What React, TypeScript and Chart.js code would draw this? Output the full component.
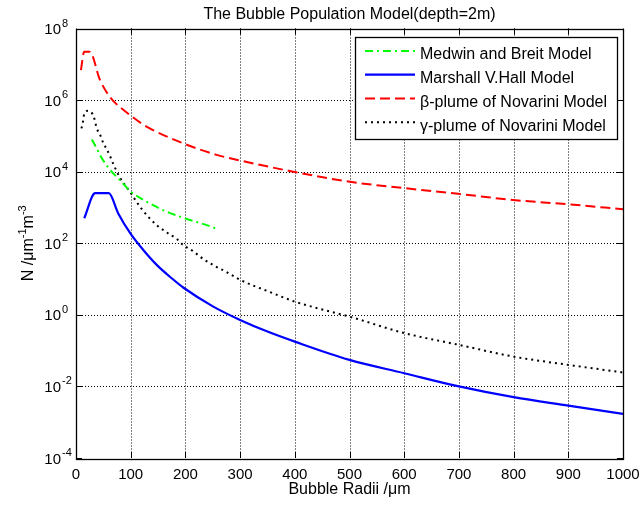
import { useEffect, useRef } from "react";
import { Chart, registerables } from "chart.js";

Chart.register(...registerables);

// ---- data ----
const chartTitle = "The Bubble Population Model(depth=2m)";
const xAxisTitle = "Bubble Radii /\u03bcm";

const xTicks = [0, 100, 200, 300, 400, 500, 600, 700, 800, 900, 1000];
const yTickExponents = [-4, -2, 0, 2, 4, 6, 8];

const seriesNames = [
  "Medwin and Breit Model",
  "Marshall V.Hall Model",
  "\u03b2-plume of Novarini Model",
  "\u03b3-plume of Novarini Model",
];

const radiiMedwin = [29, 41, 47, 65, 80, 100, 129, 166, 199, 239, 260];
const nMedwin = [7.9e4, 3.6e4, 2.4e4, 1.0e4, 5.9e3, 2.8e3, 1.45e3, 760, 500, 320, 245];

const radiiHall = [15, 35, 60, 77, 100, 123, 148, 175, 196, 251, 300, 350, 400, 500, 600, 700, 800, 900, 1000];
const nHall = [500, 2500, 2500, 690, 182, 65, 24.5, 10.5, 5.8, 1.7, 0.72, 0.34, 0.178, 0.055, 0.0234, 0.01, 0.005, 0.0029, 0.0017];

const radiiBeta = [9, 15, 25, 44, 62, 99, 129, 196, 257, 300, 397, 501, 598, 699, 799, 899, 1000];
const nBeta = [6.9e6, 2.24e7, 2.24e7, 3.6e6, 1.23e6, 3.8e5, 1.82e5, 6.2e4, 2.95e4, 2.05e4, 1.0e4, 5.2e3, 3.5e3, 2.4e3, 1.62e3, 1.23e3, 890];

const radiiGamma = [10, 13, 15, 22, 32, 38, 45, 50, 56, 62, 67, 74, 80, 93, 102, 111, 120, 132, 148, 166, 184, 196, 214, 233, 254, 275, 300, 350, 400, 450, 500, 600, 700, 800, 900, 1000];
const nGamma = [1.62e5, 2.6e5, 4.1e5, 5.0e5, 3.6e5, 1.62e5, 1.0e5, 6.2e4, 4.3e4, 2.75e4, 1.8e4, 1.05e4, 6.9e3, 3.6e3, 2.3e3, 1.41e3, 912, 550, 316, 200, 132, 89, 60, 36, 23, 15.8, 9.5, 4.6, 2.34, 1.41, 0.89, 0.31, 0.145, 0.068, 0.04, 0.0245];

const FONT = "'Liberation Sans', Arial, sans-serif";

const styles = [
  { color: "#00ff00", dash: [8, 4, 2, 4], width: 2 },
  { color: "#0000ff", dash: [] as number[], width: 2.2 },
  { color: "#ff0000", dash: [10, 5], width: 2 },
  { color: "#000000", dash: [2, 4], width: 2 },
];

function pts(xs: number[], ys: number[]) {
  return xs.map((x, i) => ({ x, y: ys[i] }));
}

const decoPlugin = {
  id: "deco",
  beforeDraw(chart: any) {
    const { ctx, width, height } = chart;
    ctx.save();
    ctx.fillStyle = "#fff";
    ctx.fillRect(0, 0, width, height);
    ctx.restore();
  },
  beforeDatasetsDraw(chart: any) {
    const { ctx, chartArea: a, scales } = chart;
    const sx = scales.x;
    const sy = scales.y;
    ctx.save();
    ctx.strokeStyle = "#000";
    ctx.lineWidth = 1;
    ctx.setLineDash([1, 2]);
    for (const v of xTicks) {
      if (v === xTicks[0] || v === xTicks[xTicks.length - 1]) continue;
      const px = Math.round(sx.getPixelForValue(v)) + 0.5;
      ctx.beginPath();
      ctx.moveTo(px, a.top);
      ctx.lineTo(px, a.bottom);
      ctx.stroke();
    }
    for (const e of yTickExponents) {
      if (e === yTickExponents[0] || e === yTickExponents[yTickExponents.length - 1]) continue;
      const py = Math.round(sy.getPixelForValue(Math.pow(10, e))) + 0.5;
      ctx.beginPath();
      ctx.moveTo(a.left, py);
      ctx.lineTo(a.right, py);
      ctx.stroke();
    }
    ctx.restore();
  },
  afterDatasetsDraw(chart: any) {
    const { ctx, chartArea: a, scales } = chart;
    const sx = scales.x;
    const sy = scales.y;
    ctx.save();
    ctx.setLineDash([]);
    // box
    ctx.strokeStyle = "#000";
    ctx.lineWidth = 1.3;
    ctx.strokeRect(Math.round(a.left) + 0.5, Math.round(a.top) + 0.5, Math.round(a.right - a.left), Math.round(a.bottom - a.top));
    // tick marks (inward, all sides)
    ctx.lineWidth = 1;
    const tl = 6;
    for (const v of xTicks) {
      const px = Math.round(sx.getPixelForValue(v)) + 0.5;
      ctx.beginPath();
      ctx.moveTo(px, a.bottom);
      ctx.lineTo(px, a.bottom - tl);
      ctx.moveTo(px, a.top);
      ctx.lineTo(px, a.top + tl);
      ctx.stroke();
    }
    for (const e of yTickExponents) {
      const py = Math.round(sy.getPixelForValue(Math.pow(10, e))) + 0.5;
      ctx.beginPath();
      ctx.moveTo(a.left, py);
      ctx.lineTo(a.left + tl, py);
      ctx.moveTo(a.right, py);
      ctx.lineTo(a.right - tl, py);
      ctx.stroke();
    }
    // x tick labels
    ctx.fillStyle = "#000";
    ctx.font = `15px ${FONT}`;
    ctx.textAlign = "center";
    ctx.textBaseline = "alphabetic";
    for (const v of xTicks) {
      const px = sx.getPixelForValue(v);
      ctx.fillText(String(v), px, a.bottom + 21);
    }
    // y tick labels 10^n
    for (const e of yTickExponents) {
      const py = sy.getPixelForValue(Math.pow(10, e));
      ctx.font = `15px ${FONT}`;
      ctx.textAlign = "right";
      ctx.fillText("10", 61, py + 5.5);
      ctx.font = `11px ${FONT}`;
      ctx.textAlign = "left";
      ctx.fillText(String(e), 62, py - 2);
    }
    // title
    ctx.font = `16px ${FONT}`;
    ctx.textAlign = "center";
    const cx = (a.left + a.right) / 2;
    ctx.fillText(chartTitle, cx, 18.5);
    // x title
    ctx.fillText(xAxisTitle, cx, 494);
    // y title (rotated, with superscripts)
    ctx.save();
    const cy = (a.top + a.bottom) / 2;
    ctx.translate(33, cy);
    ctx.rotate(-Math.PI / 2);
    const parts: [string, boolean][] = [
      ["N /\u03bcm", false],
      ["-1", true],
      ["m", false],
      ["-3", true],
    ];
    let total = 0;
    for (const [t, sup] of parts) {
      ctx.font = sup ? `11px ${FONT}` : `16px ${FONT}`;
      total += ctx.measureText(t).width;
    }
    let xx = -total / 2;
    ctx.textAlign = "left";
    for (const [t, sup] of parts) {
      ctx.font = sup ? `11px ${FONT}` : `16px ${FONT}`;
      ctx.fillText(t, xx, sup ? -7 : 0);
      xx += ctx.measureText(t).width;
    }
    ctx.restore();
    // legend
    const lx = 355, ly = 37, lw = 262, lh = 102;
    ctx.fillStyle = "#fff";
    ctx.fillRect(lx, ly, lw, lh);
    ctx.strokeStyle = "#000";
    ctx.lineWidth = 1.3;
    ctx.strokeRect(lx + 0.5, ly + 0.5, lw, lh);
    const rowY = [53.5, 77.2, 101, 124.7];
    seriesNames.forEach((name, i) => {
      const st = styles[i];
      ctx.strokeStyle = st.color;
      ctx.lineWidth = st.width;
      ctx.setLineDash(st.dash);
      ctx.beginPath();
      ctx.moveTo(365, rowY[i] - 2.5);
      ctx.lineTo(415, rowY[i] - 2.5);
      ctx.stroke();
      ctx.setLineDash([]);
      ctx.fillStyle = "#000";
      ctx.font = `16px ${FONT}`;
      ctx.textAlign = "left";
      ctx.fillText(name, 420, rowY[i] + 5.8);
    });
    ctx.restore();
  },
};

export default function App() {
  const ref = useRef<HTMLCanvasElement | null>(null);
  useEffect(() => {
    if (!ref.current) return;
    const seriesX = [radiiMedwin, radiiHall, radiiBeta, radiiGamma];
    const seriesY = [nMedwin, nHall, nBeta, nGamma];
    const chart = new Chart(ref.current, {
      type: "line",
      data: {
        datasets: seriesNames.map((name, i) => ({
          label: name,
          data: pts(seriesX[i], seriesY[i]),
          borderColor: styles[i].color,
          borderWidth: styles[i].width,
          borderDash: styles[i].dash,
          pointRadius: 0,
          fill: false,
          cubicInterpolationMode: "monotone" as const,
        })),
      },
      options: {
        responsive: false,
        animation: false,
        layout: { padding: { left: 76, right: 17, top: 28.5, bottom: 50 } },
        scales: {
          x: { type: "linear", min: 0, max: 1000, display: false },
          y: { type: "logarithmic", min: 1e-4, max: 1e8, display: false },
        },
        plugins: {
          legend: { display: false },
          tooltip: { enabled: false },
          title: { display: false },
        },
      },
      plugins: [decoPlugin],
    });
    return () => chart.destroy();
  }, []);
  return (
    <div style={{ position: "absolute", left: 0, top: 0, width: 640, height: 508 }}>
      <canvas ref={ref} width={640} height={508} />
    </div>
  );
}
